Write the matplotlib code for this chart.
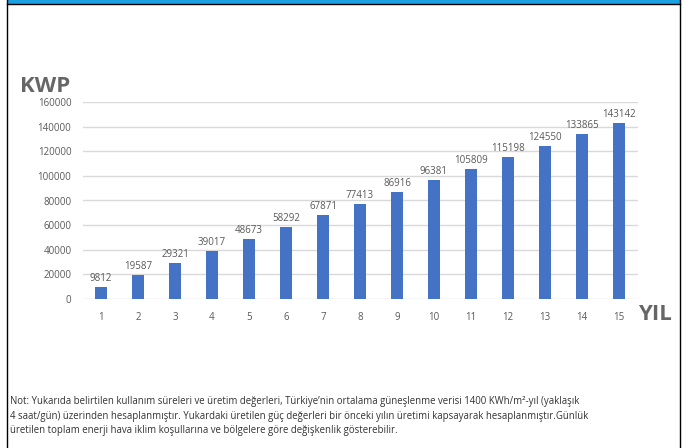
import matplotlib
matplotlib.use("Agg")
import matplotlib.pyplot as plt
from matplotlib.patches import Rectangle
from matplotlib.lines import Line2D

# yearly cumulative production (KWP)
years = list(range(1, 16))
kwp = [9812, 19587, 29321, 39017, 48673, 58292, 67871, 77413,
       86916, 96381, 105809, 115198, 124550, 133865, 143142]
y_ticks = [0, 20000, 40000, 60000, 80000, 100000, 120000, 140000, 160000]

note = ("Not: Yukarıda belirtilen kullanım süreleri ve üretim değerleri, Türkiye’nin ortalama güneşlenme verisi 1400 KWh/m²-yıl (yaklaşık\n"
        "4 saat/gün) üzerinden hesaplanmıştır. Yukardaki üretilen güç değerleri bir önceki yılın üretimi kapsayarak hesaplanmıştır.Günlük\n"
        "üretilen toplam enerji hava iklim koşullarına ve bölgelere göre değişkenlik gösterebilir.")

plt.rcParams['font.family'] = ['Open Sans', 'DejaVu Sans']
grey = '#595959'

fig = plt.figure(figsize=(6.91, 4.48), dpi=100)
W, H = 691, 448

def fx(px):
    return px / W

def fy(py):
    return 1 - py / H

# top blue band and frame
fig.patches.append(Rectangle((fx(7), fy(4)), fx(673), 4 / H, transform=fig.transFigure,
                             facecolor='#1ba1e2', edgecolor='none'))
fig.lines.append(Line2D([fx(7), fx(680)], [fy(4.5), fy(4.5)], transform=fig.transFigure, color='black', lw=1))
fig.lines.append(Line2D([fx(7), fx(7)], [fy(0), fy(448)], transform=fig.transFigure, color='black', lw=1))
fig.lines.append(Line2D([fx(680), fx(680)], [fy(0), fy(448)], transform=fig.transFigure, color='black', lw=1))

ax = fig.add_axes([fx(82.5), fy(299), fx(637.5 - 82.5), (299 - 102) / H])
ax.set_facecolor('none')
ax.bar(years, kwp, width=0.33, color='#4472c4', zorder=3)
for x, v in zip(years, kwp):
    ax.text(x, v + 2500, str(v), ha='center', va='bottom', fontsize=7, color=grey, zorder=4)

ax.set_xlim(0.5, 15.5)
ax.set_ylim(0, 160000)
ax.set_yticks(y_ticks)
ax.set_yticklabels([str(t) for t in y_ticks])
ax.set_xticks(years)
ax.grid(axis='y', color='#d9d9d9', lw=1, zorder=0)
ax.tick_params(axis='both', length=0, labelsize=7, labelcolor=grey)
ax.tick_params(axis='x', pad=9)
ax.tick_params(axis='y', pad=8)
for s in ax.spines.values():
    s.set_visible(False)

fig.text(fx(20), fy(86), 'KWP', fontsize=16, fontweight='bold', color='#666666', ha='left', va='center')
fig.text(fx(638), fy(314), 'YIL', fontsize=16, fontweight='bold', color='#666666', ha='left', va='center')

fig.text(fx(10), fy(416), note, fontsize=6.9, color='#333333', ha='left', va='center',
         linespacing=1.45, zorder=5)

fig.savefig('out.png', dpi=100)
